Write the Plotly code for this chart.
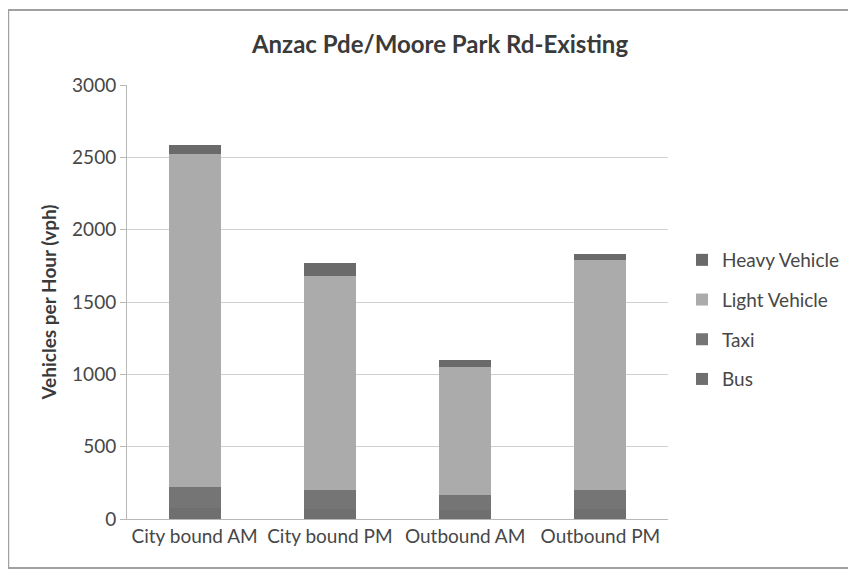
import plotly.graph_objects as go

categories = ["City bound AM", "City bound PM", "Outbound AM", "Outbound PM"]
bus = [75, 70, 60, 70]
taxi = [146, 130, 106, 130]
light_vehicle = [2304, 1482, 884, 1590]
heavy_vehicle = [60, 87, 49, 41]

series = [
    ("Bus", bus, "#6f6f6f", 4),
    ("Taxi", taxi, "#757575", 3),
    ("Light Vehicle", light_vehicle, "#ababab", 2),
    ("Heavy Vehicle", heavy_vehicle, "#6a6a6a", 1),
]

fig = go.Figure()
for name, vals, col, rank in series:
    fig.add_trace(go.Bar(
        x=categories, y=vals, name=name, legendgroup=name, legendrank=rank,
        marker=dict(color=col, line=dict(width=0)),
    ))

# figure is placed 8px in from the page corner by the page margin
W, H = 848, 563
L, R, T, B = 119, 187, 77, 52
pw, ph = W - L - R, H - T - B

def px(x):
    return (x - L) / pw

def py(y):
    return (H - B - y) / ph

TXT = "#474747"

fig.update_layout(
    width=W, height=H,
    margin=dict(l=L, r=R, t=T, b=B),
    barmode="stack",
    bargap=0.615,
    paper_bgcolor="white",
    plot_bgcolor="white",
    font=dict(family="Lato, Open Sans, sans-serif", color=TXT, size=19),
    title=dict(
        text="<b>Anzac Pde/Moore Park Rd-Existing</b>",
        x=432 / W, xanchor="center", xref="container",
        y=1 - 37 / H, yanchor="middle", yref="container",
        font=dict(size=24, color="#3a3a3a"),
    ),
    xaxis=dict(
        showgrid=False, showline=True, linecolor="#b8b8b8", linewidth=1,
        ticks="", tickfont=dict(size=19, color=TXT),
    ),
    yaxis=dict(
        range=[0, 3000], dtick=500, showgrid=True, gridcolor="#d0d0d0",
        gridwidth=1, showline=True, linecolor="#b8b8b8", linewidth=1,
        ticks="outside", ticklen=6, tickcolor="#b8b8b8",
        tickfont=dict(size=19, color=TXT), zeroline=False,
        title=dict(text="<b>Vehicles per Hour (vph)</b>",
                   font=dict(size=19, color="#3a3a3a"), standoff=10),
    ),
    legend=dict(
        x=px(674), xanchor="left", y=py(233), yanchor="top",
        traceorder="grouped", tracegroupgap=12,
        font=dict(size=19, color=TXT),
        itemwidth=30, bgcolor="rgba(0,0,0,0)",
    ),
    showlegend=True,
    shapes=[dict(
        type="rect", xref="paper", yref="paper",
        x0=px(0), x1=px(847), y0=py(560), y1=py(2),
        line=dict(color="#a0a0a0", width=2), layer="below",
    )],
)

fig.write_html("out.html")
